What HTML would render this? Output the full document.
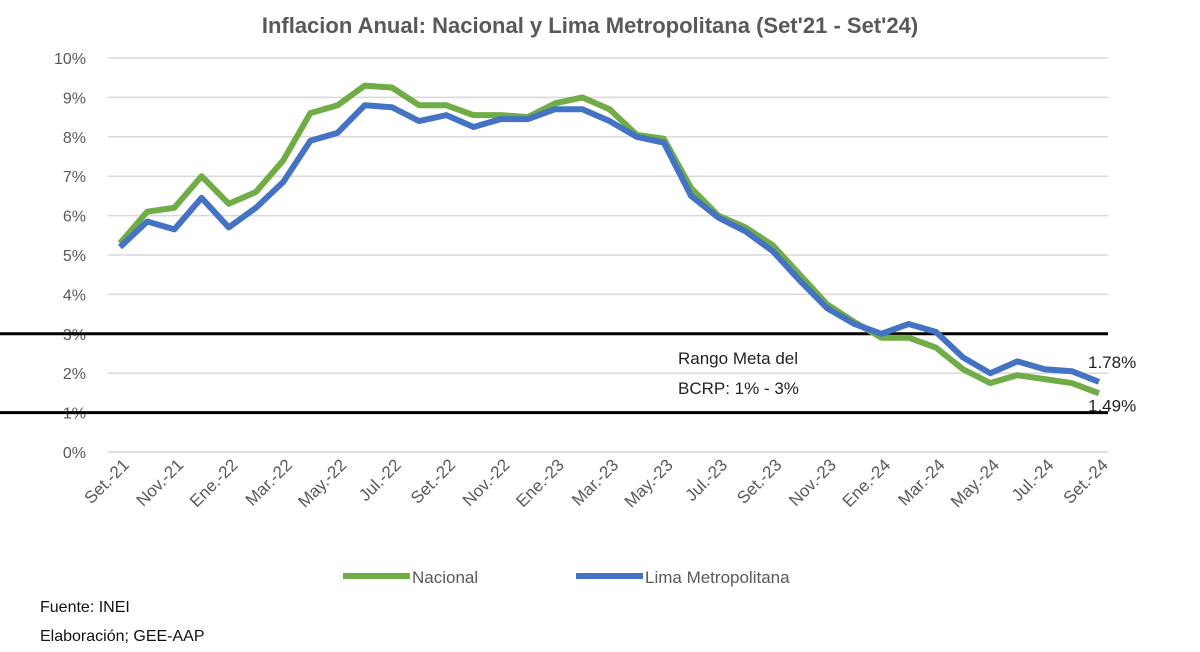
<!DOCTYPE html>
<html><head><meta charset="utf-8"><style>
body{margin:0;background:#fff;font-family:"Liberation Sans",sans-serif}
svg{display:block}
</style></head><body>
<svg id="c" width="1200" height="652">
<text x="590" y="33" text-anchor="middle" font-size="22" font-weight="bold" fill="#595959">Inflacion Anual: Nacional y Lima Metropolitana (Set'21 - Set'24)</text>
<g id="grid"></g><g id="series"></g><g id="xl"></g>
<text x="678" y="364" font-size="17" fill="#222">Rango Meta del</text>
<text x="678" y="394" font-size="17" fill="#222">BCRP: 1% - 3%</text>
<g>
<line x1="343" y1="576" x2="410" y2="576" stroke="#70ad47" stroke-width="6"/>
<text x="412" y="583" font-size="17" fill="#595959">Nacional</text>
<line x1="576" y1="576" x2="643" y2="576" stroke="#4472c4" stroke-width="6"/>
<text x="645" y="583" font-size="17" fill="#595959">Lima Metropolitana</text>
</g>
<text x="40" y="612" font-size="16" fill="#111">Fuente: INEI</text>
<text x="40" y="641" font-size="16" fill="#111">Elaboración; GEE-AAP</text>
</svg>
<script>
const months=["Set.-21","Oct.-21","Nov.-21","Dic.-21","Ene.-22","Feb.-22","Mar.-22","Abr.-22","May.-22","Jun.-22","Jul.-22","Ago.-22","Set.-22","Oct.-22","Nov.-22","Dic.-22","Ene.-23","Feb.-23","Mar.-23","Abr.-23","May.-23","Jun.-23","Jul.-23","Ago.-23","Set.-23","Oct.-23","Nov.-23","Dic.-23","Ene.-24","Feb.-24","Mar.-24","Abr.-24","May.-24","Jun.-24","Jul.-24","Ago.-24","Set.-24"];
const nacional=[5.3,6.1,6.2,7.0,6.3,6.6,7.4,8.6,8.8,9.3,9.25,8.8,8.8,8.55,8.55,8.5,8.85,9.0,8.7,8.05,7.95,6.7,6.0,5.7,5.25,4.5,3.75,3.3,2.9,2.9,2.65,2.1,1.75,1.95,1.85,1.75,1.49];
const lima=[5.2,5.85,5.65,6.45,5.7,6.2,6.85,7.9,8.1,8.8,8.75,8.4,8.55,8.25,8.45,8.45,8.7,8.7,8.4,8.0,7.85,6.5,5.95,5.6,5.1,4.35,3.65,3.25,3.0,3.25,3.05,2.4,2.0,2.3,2.1,2.05,1.78];
const yTicks=[0,1,2,3,4,5,6,7,8,9,10];
const targetBand=[1,3];
const NS="http://www.w3.org/2000/svg";
const x=i=>120+i*(1099-120)/(months.length-1);
const y=v=>452-v*39.4;
function mk(t,a,p){const e=document.createElementNS(NS,t);for(const k in a)e.setAttribute(k,a[k]);p.appendChild(e);return e;}
const g=document.getElementById('grid');
yTicks.forEach(v=>{
 const l=mk('line',{x1:108,x2:1108,y1:y(v),y2:y(v),stroke:'#d9d9d9','stroke-width':1.5},g);
 
 
 const t=mk('text',{x:86,y:y(v)+6,'text-anchor':'end','font-size':16,fill:'#595959'},g);
 t.textContent=v+'%';
 
 
});
targetBand.forEach(v=>{
 const l=mk('line',{x1:0,x2:1108,y1:y(v),y2:y(v),stroke:'#000','stroke-width':3},g);
 
 
});
const s=document.getElementById('series');
[[nacional,'#70ad47','nacional-line'],[lima,'#4472c4','lima-line']].forEach(([d,c,n])=>{
 const p=mk('polyline',{points:d.map((v,i)=>x(i)+','+y(v)).join(' '),fill:'none',stroke:c,'stroke-width':6,'stroke-linejoin':'round'},s);
 
 
});
const last=months.length-1;
const l1=mk('text',{x:1088,y:y(lima[last])-14,'font-size':17,fill:'#222'},s);l1.textContent=lima[last].toFixed(2)+'%';


const l2=mk('text',{x:1088,y:y(nacional[last])+18,'font-size':17,fill:'#222'},s);l2.textContent=nacional[last].toFixed(2)+'%';


const xl=document.getElementById('xl');
mk('line',{x1:108,x2:1108,y1:452,y2:452,stroke:'#d9d9d9','stroke-width':1.5},xl);
months.forEach((m,i)=>{
 if(i%2)return;
 const t=mk('text',{'font-size':17,fill:'#595959','text-anchor':'end',transform:`translate(${x(i)+10},466) rotate(-45)`},xl);
 t.textContent=m;
 
 
});
</script>
</body></html>
